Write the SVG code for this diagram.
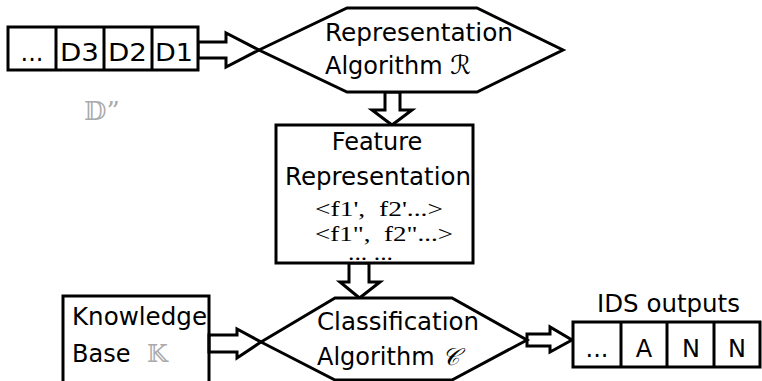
<svg xmlns="http://www.w3.org/2000/svg" width="762" height="381" viewBox="0 0 762 381">
<style>
.sh{fill:#fff;stroke:#000;stroke-width:3;stroke-linejoin:miter}
.ln{stroke:#000;stroke-width:3;fill:none}
.t{font-family:"DejaVu Sans","Liberation Sans",sans-serif;font-size:24px;fill:#000}
.s{font-family:"Liberation Serif","DejaVu Serif",serif;font-size:22px;fill:#000}
.g{font-family:"DejaVu Serif","DejaVu Sans","Noto Sans",serif;fill:#aaa}
.m{font-family:"DejaVu Sans","DejaVu Serif","Noto Sans",sans-serif;font-style:italic;fill:#000}
</style>
<rect width="762" height="381" fill="#fff"/>
<g id="connectors">
<polygon class="sh" points="198,42 226,42 226,33 259,50 226,67 226,58 198,58"/>
<polygon class="sh" points="385,92 385,110 372,110 392,125 412,110 400,110 400,92"/>
<polygon class="sh" points="349,263 349,282 340,282 359.5,298 380,282 369,282 369,263"/>
<polygon class="sh" points="209,335 237,335 237,329 261,342 237,358 237,352 209,352"/>
<polygon class="sh" points="527,334 550,334 550,327 572,340 550,352 550,346 527,346"/>
</g>
<g id="input-stream">
<rect class="sh" x="8" y="27" width="190" height="43"/>
<line class="ln" x1="56" y1="27" x2="56" y2="70"/>
<line class="ln" x1="104" y1="27" x2="104" y2="70"/>
<line class="ln" x1="152" y1="27" x2="152" y2="70"/>
<text class="t" x="32" y="61" text-anchor="middle" font-size="32">...</text>
<text class="t" x="60" y="61" font-size="33" textLength="39" lengthAdjust="spacingAndGlyphs">D3</text>
<text class="t" x="108" y="61" font-size="33" textLength="39" lengthAdjust="spacingAndGlyphs">D2</text>
<text class="t" x="155" y="61" font-size="33" textLength="38" lengthAdjust="spacingAndGlyphs">D1</text>
</g>
<g id="dataset-label">
<text class="g" x="84" y="120" font-size="26">𝔻”</text>
</g>
<g id="representation-algorithm">
<polygon class="sh" points="259,50 347,8 477,8 563,50 477,92 347,92"/>
<text class="t" x="325" y="41" textLength="188" lengthAdjust="spacingAndGlyphs">Representation</text>
<text class="t" x="325" y="74">Algorithm <tspan class="m" font-size="26">ℛ</tspan></text>
</g>
<g id="feature-representation">
<rect class="sh" x="276" y="125" width="197" height="138"/>
<text class="t" x="377" y="150" text-anchor="middle">Feature</text>
<text class="t" x="285" y="185" textLength="186" lengthAdjust="spacingAndGlyphs">Representation</text>
<text class="s" x="315" y="216" xml:space="preserve" textLength="128" lengthAdjust="spacingAndGlyphs">&lt;f1',  f2'...&gt;</text>
<text class="s" x="315" y="241" xml:space="preserve" textLength="138" lengthAdjust="spacingAndGlyphs">&lt;f1",  f2"...&gt;</text>
<text class="s" x="348" y="260" font-size="14" textLength="45" lengthAdjust="spacingAndGlyphs">... ...</text>
</g>
<g id="knowledge-base">
<polyline class="ln" points="63,383 63,296 209,296 209,383"/>
<text class="t" x="72" y="325" textLength="135" lengthAdjust="spacingAndGlyphs">Knowledge</text>
<text class="t" x="72" y="362">Base</text>
<text class="g" x="147" y="362" font-size="24">𝕂</text>
</g>
<g id="classification-algorithm">
<polygon class="sh" points="261,342 335,298 452,298 527,340 452,380 335,380"/>
<text class="t" x="317" y="330" textLength="162" lengthAdjust="spacingAndGlyphs">Classification</text>
<text class="t" x="317" y="365">Algorithm <tspan class="m" font-size="24">𝒞</tspan></text>
</g>
<g id="ids-outputs">
<text class="t" x="597" y="312" textLength="143" lengthAdjust="spacingAndGlyphs">IDS outputs</text>
<rect class="sh" x="573" y="322" width="187" height="45"/>
<line class="ln" x1="621" y1="322" x2="621" y2="367"/>
<line class="ln" x1="667" y1="322" x2="667" y2="367"/>
<line class="ln" x1="714" y1="322" x2="714" y2="367"/>
<text class="t" x="597" y="357" text-anchor="middle" font-size="28">...</text>
<text class="t" x="644" y="357" text-anchor="middle" font-size="28">A</text>
<text class="t" x="691" y="357" text-anchor="middle" font-size="28">N</text>
<text class="t" x="737" y="357" text-anchor="middle" font-size="28">N</text>
</g>
</svg>
